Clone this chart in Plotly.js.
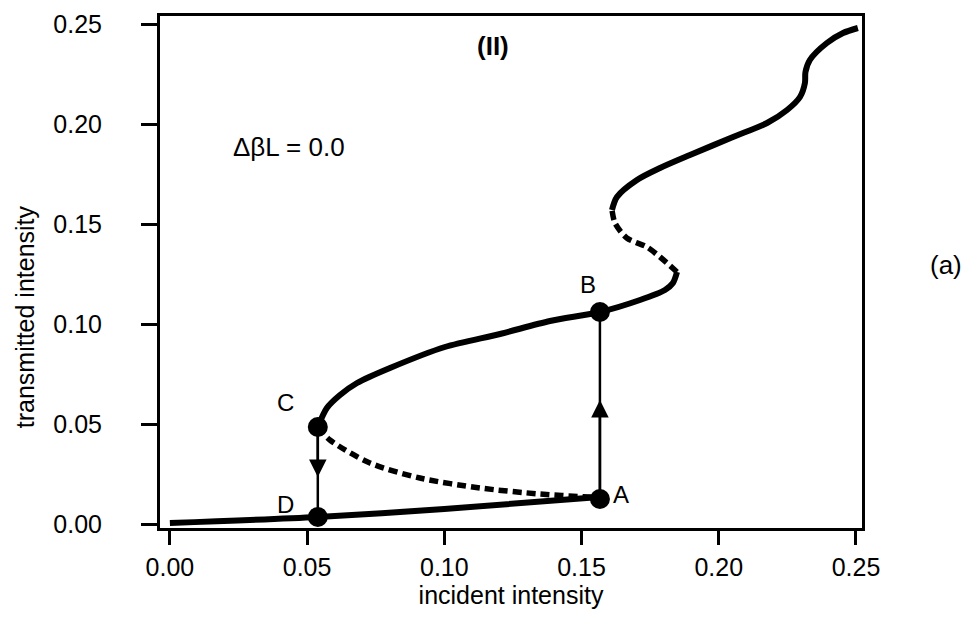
<!DOCTYPE html>
<html>
<head>
<meta charset="utf-8">
<script src="https://cdn.plot.ly/plotly-3.0.1.min.js"></script>
<style>html,body{margin:0;padding:0;background:#fff;}#chart{width:974px;height:620px;}</style>
</head>
<body>
<div id="chart"></div>
<script>
// lower stable branch (D -> A)
const lowX = [0.000, 0.0539, 0.100, 0.1567];
const lowY = [0.0005, 0.0035, 0.0075, 0.0135];
// unstable middle branch (C -> A), dashed
const midX = [0.0539, 0.0583, 0.0729, 0.0911, 0.113, 0.1348, 0.153, 0.1567];
const midY = [0.0485, 0.042, 0.0305, 0.023, 0.018, 0.015, 0.0135, 0.0135];
// upper stable branch (C -> B -> turning point)
const upX = [0.0539, 0.0572, 0.0620, 0.0682, 0.0802, 0.1002, 0.1203, 0.1385, 0.1567, 0.1713, 0.1804, 0.1833, 0.1848];
const upY = [0.0485, 0.058, 0.0645, 0.0705, 0.078, 0.0885, 0.095, 0.1015, 0.106, 0.112, 0.117, 0.1205, 0.126];
// second unstable branch, dashed
const mid2X = [0.1848, 0.1786, 0.1738, 0.1665, 0.1622, 0.1611];
const mid2Y = [0.126, 0.1335, 0.1385, 0.143, 0.1505, 0.157];
// top stable branch
const topX = [0.1611, 0.1629, 0.1702, 0.1786, 0.1895, 0.2052, 0.2176, 0.2249, 0.2296, 0.2314, 0.2316, 0.2332, 0.2394, 0.2453, 0.2507];
const topY = [0.157, 0.1635, 0.172, 0.178, 0.1845, 0.1935, 0.2005, 0.207, 0.2135, 0.2205, 0.226, 0.232, 0.2405, 0.2455, 0.248];
// labelled points
const ptNames = ["A", "B", "C", "D"];
const ptX = [0.1567, 0.1567, 0.0539, 0.0539];
const ptY = [0.0125, 0.106, 0.0485, 0.0035];
// arrow tips
const arrowUpTipY = 0.062;
const arrowDownTipY = 0.0235;
// axis ticks
const tickVals = [0, 0.05, 0.10, 0.15, 0.20, 0.25];
const tickText = ["0.00", "0.05", "0.10", "0.15", "0.20", "0.25"];

const FONT = "Liberation Sans, Arial, Helvetica, sans-serif";
const solid = {color: "#000", width: 6, shape: "spline", smoothing: 0.8};
const dashed = {color: "#000", width: 5.5, dash: "9px,5px", shape: "spline", smoothing: 0.8};

const traces = [
  {x: lowX, y: lowY, mode: "lines", line: solid, hoverinfo: "skip"},
  {x: midX, y: midY, mode: "lines", line: dashed, hoverinfo: "skip"},
  {x: upX, y: upY, mode: "lines", line: solid, hoverinfo: "skip"},
  {x: mid2X, y: mid2Y, mode: "lines", line: dashed, hoverinfo: "skip"},
  {x: topX, y: topY, mode: "lines", line: solid, hoverinfo: "skip"},
  {x: [ptX[0], ptX[1]], y: [ptY[0], ptY[1]], mode: "lines", line: {color: "#000", width: 2.5}, hoverinfo: "skip"},
  {x: [ptX[2], ptX[3]], y: [ptY[2], ptY[3]], mode: "lines", line: {color: "#000", width: 2.5}, hoverinfo: "skip"},
  {x: ptX, y: ptY, mode: "markers", marker: {color: "#000", size: 20}, hoverinfo: "skip"}
];

const labelOffsets = {A: [21, 5], B: [-12, 28], C: [-32, 25], D: [-32, 13]};
const annotations = [];
ptNames.forEach((n, i) => {
  annotations.push({x: ptX[i], y: ptY[i], text: n, showarrow: false,
    xshift: labelOffsets[n][0], yshift: labelOffsets[n][1],
    font: {family: FONT, size: 24, color: "#000"}});
});
annotations.push({x: ptX[0], y: arrowUpTipY, ax: ptX[0], ay: ptY[0], axref: "x", ayref: "y",
  showarrow: true, arrowhead: 2, arrowsize: 1.4, arrowwidth: 2.5, arrowcolor: "#000", text: ""});
annotations.push({x: ptX[2], y: arrowDownTipY, ax: ptX[2], ay: ptY[2], axref: "x", ayref: "y",
  showarrow: true, arrowhead: 2, arrowsize: 1.4, arrowwidth: 2.5, arrowcolor: "#000", text: ""});
annotations.push({x: 0.1177, y: 0.239, text: "<b>(II)</b>", showarrow: false, font: {family: FONT, size: 26, color: "#000"}});
annotations.push({x: 0.0434, y: 0.1885, text: "ΔβL = 0.0", showarrow: false, font: {family: FONT, size: 26, color: "#000"}});
annotations.push({xref: "paper", yref: "paper", x: 1.12, y: 0.514, xanchor: "center", yanchor: "middle",
  text: "(a)", showarrow: false, font: {family: FONT, size: 26, color: "#000"}});
annotations.push({xref: "paper", yref: "paper", x: -0.192, y: 0.412, xanchor: "center", yanchor: "middle",
  textangle: -90, text: "transmitted intensity", showarrow: false, font: {family: FONT, size: 25, color: "#000"}});

const layout = {
  width: 974, height: 620,
  margin: {l: 160, r: 112, t: 16, b: 92},
  paper_bgcolor: "#fff", plot_bgcolor: "#fff",
  showlegend: false,
  font: {family: FONT, color: "#000"},
  xaxis: {
    range: [-0.0036, 0.2522], tickvals: tickVals, ticktext: tickText,
    showgrid: false, zeroline: false, showline: true, mirror: true, linewidth: 3, linecolor: "#000",
    ticks: "outside", ticklen: 14, tickwidth: 3, tickcolor: "#000",
    tickfont: {family: FONT, size: 25, color: "#000"}, ticklabelstandoff: 1,
    title: {text: "incident intensity", font: {family: FONT, size: 25, color: "#000"}, standoff: 2},
    automargin: false
  },
  yaxis: {
    range: [-0.002, 0.254], tickvals: tickVals, ticktext: tickText,
    showgrid: false, zeroline: false, showline: true, mirror: true, linewidth: 3, linecolor: "#000",
    ticks: "outside", ticklen: 16, tickwidth: 3, tickcolor: "#000",
    tickfont: {family: FONT, size: 25, color: "#000"}, ticklabelstandoff: 34,
    automargin: false
  },
  annotations: annotations
};

Plotly.newPlot("chart", traces, layout, {staticPlot: true, displayModeBar: false});
</script>
</body>
</html>
